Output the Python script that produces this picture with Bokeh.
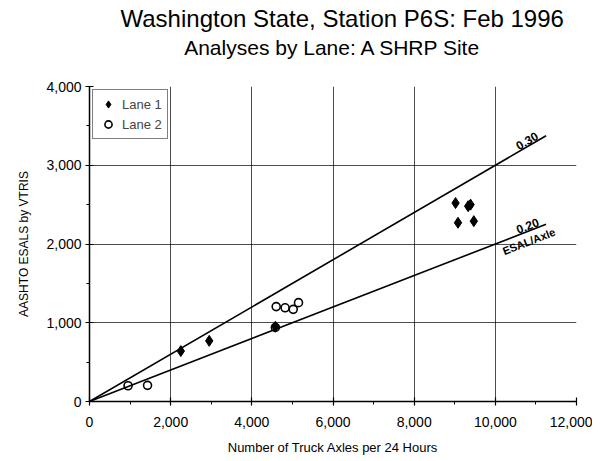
import math
from bokeh.plotting import figure
from bokeh.models import (Range1d, SingleIntervalTicker, NumeralTickFormatter, Title,
                          Legend, LegendItem)
from bokeh.core.properties import value
from bokeh.embed import file_html
from bokeh.resources import INLINE

# ---- data ----
main_title = "Washington State, Station P6S: Feb 1996"
sub_title = "Analyses by Lane: A SHRP Site"
x_label = "Number of Truck Axles per 24 Hours"
y_label = "AASHTO ESALS by VTRIS"

lane1_axles = [2250, 2950, 4580, 9020, 9330, 9390, 9080, 9470]
lane1_esals = [640, 770, 950, 2520, 2480, 2500, 2270, 2290]
lane2_axles = [950, 1430, 4580, 4600, 4820, 5020, 5150]
lane2_esals = [200, 205, 940, 1205, 1190, 1170, 1255]

ref_rates = [0.30, 0.20]
ref_labels = ["0.30", "0.20"]
ref_x_end = 11250
unit_label = "ESAL/Axle"

x_max = 12000
y_max = 4000

FONT = "Liberation Sans"

# ---- layout ----
W, H = 592, 458
BL, BR, BT, BB = 89, 16, 86, 57
frame_w = W - BL - BR
frame_h = H - BT - BB

p = figure(width=W, height=H, output_backend="svg", toolbar_location=None, title=None,
           x_range=Range1d(0, x_max), y_range=Range1d(0, y_max),
           min_border_left=BL, min_border_right=BR, min_border_top=BT, min_border_bottom=BB,
           background_fill_color="white", border_fill_color="white", outline_line_color=None)

spacer = Title(text=" ", align="center", text_font=FONT, text_font_size="2px", standoff=23)
sub = Title(text=sub_title, align="center", text_font=FONT, text_font_size="21px",
            text_font_style="normal", text_color="black", standoff=2)
main = Title(text=main_title, align="left", text_font=FONT, text_font_size="24px",
             text_font_style="normal", text_color="black", offset=31, standoff=1)
p.add_layout(spacer, "above")
p.add_layout(sub, "above")
p.add_layout(main, "above")

xt = SingleIntervalTicker(interval=2000, num_minor_ticks=2)
yt = SingleIntervalTicker(interval=1000, num_minor_ticks=2)
p.xaxis.ticker = xt
p.yaxis.ticker = yt
p.xgrid.ticker = xt
p.ygrid.ticker = yt
p.grid.grid_line_color = "black"
p.grid.grid_line_alpha = 0.7
p.grid.grid_line_width = 1

for ax in (p.xaxis, p.yaxis):
    ax.formatter = NumeralTickFormatter(format="0,0")
    ax.axis_line_color = "black"
    ax.axis_line_width = 1.5
    ax.major_tick_line_color = "black"
    ax.major_tick_line_width = 1.2
    ax.minor_tick_line_color = "black"
    ax.major_tick_in = 4
    ax.major_tick_out = 4
    ax.minor_tick_in = 0
    ax.minor_tick_out = 3
    ax.major_label_text_font = FONT
    ax.major_label_text_font_size = "14px"
    ax.major_label_text_color = "black"
    ax.axis_label_text_font = FONT
    ax.axis_label_text_font_style = "normal"
    ax.axis_label_text_color = "black"

p.xaxis.major_label_standoff = 11
p.yaxis.major_label_standoff = 4
p.xaxis.axis_label = x_label
p.xaxis.axis_label_text_font_size = "13px"
p.xaxis.axis_label_standoff = 10
p.yaxis.axis_label = y_label
p.yaxis.axis_label_text_font_size = "12px"
p.yaxis.axis_label_standoff = 12

# reference lines
for rate in ref_rates:
    p.line([0, ref_x_end], [0, rate * ref_x_end], line_color="black", line_width=1.6)

px_per_x = frame_w / x_max
px_per_y = frame_h / y_max
angles = [math.atan(r * px_per_y / px_per_x) for r in ref_rates]
lx = [0.963 * ref_x_end for _ in ref_rates]
ly = [r * x for r, x in zip(ref_rates, lx)]
p.text(x=lx, y=ly, text=ref_labels, angle=angles, text_align="center",
       text_baseline="bottom", text_font=value(FONT), text_font_size="12px",
       text_font_style="bold", text_color="black", y_offset=-1)
p.text(x=[lx[1] - 60], y=[ly[1] - 12], text=[unit_label], angle=[angles[1]],
       text_align="center", text_baseline="top", text_font=value(FONT),
       text_font_size="11px", text_font_style="bold", text_color="black", y_offset=4)

# points
r1 = p.scatter(lane1_axles, lane1_esals, marker="diamond", size=11,
               fill_color="black", line_color="black")
r2 = p.scatter(lane2_axles, lane2_esals, marker="circle", size=8,
               fill_color=None, line_color="black", line_width=1.6)

legend = Legend(items=[LegendItem(label="Lane 1", renderers=[r1]),
                       LegendItem(label="Lane 2", renderers=[r2])],
                location="top_left", border_line_color="black", border_line_width=1,
                background_fill_color="white", background_fill_alpha=1.0,
                label_text_font=FONT, label_text_font_size="13px",
                padding=5, spacing=2, margin=3, glyph_width=20, glyph_height=18,
                label_height=18, label_standoff=4)
p.add_layout(legend)

open("out.html", "w").write(file_html(p, INLINE))
